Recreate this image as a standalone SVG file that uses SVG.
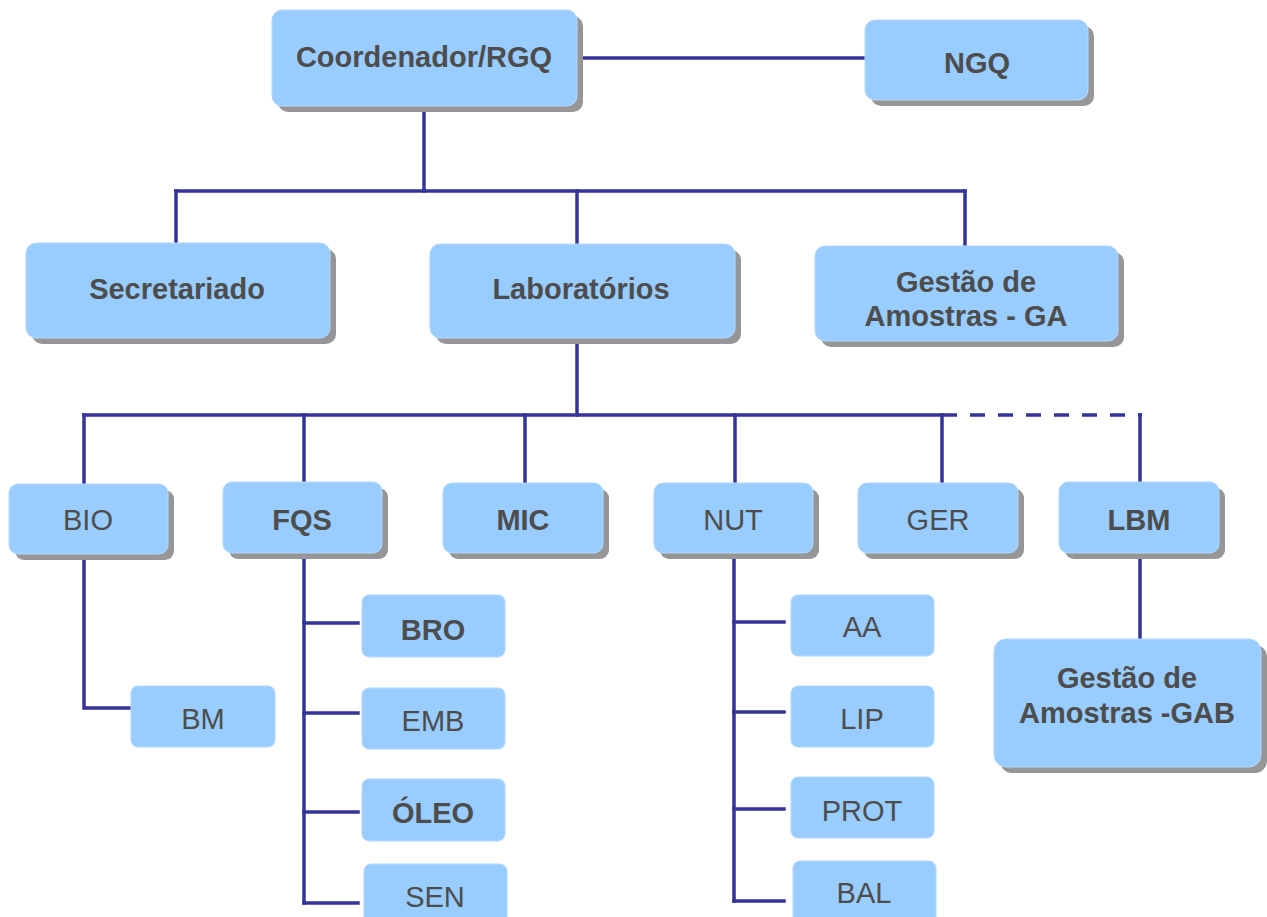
<svg xmlns="http://www.w3.org/2000/svg" width="1267" height="917" viewBox="0 0 1267 917">
<style>
.box{fill:#99ccff;stroke:#b3d9ff;stroke-width:1}
.sh{fill:#969696}
.t{font-family:"Liberation Sans",Arial,sans-serif;font-size:29px;fill:#4d4d4d;text-anchor:middle}
.b{font-weight:bold}
.ln{stroke:#333399;stroke-width:3.5;fill:none;stroke-linecap:square}
.dash{stroke:#333399;stroke-width:3.5;fill:none;stroke-dasharray:15 13}
</style>
<rect width="1267" height="917" fill="#ffffff"/>
<g id="connectors">
<line class="ln" x1="583" y1="58" x2="865" y2="58"/>
<line class="ln" x1="424" y1="112" x2="424" y2="191"/>
<line class="ln" x1="176" y1="191" x2="965" y2="191"/>
<line class="ln" x1="176" y1="191" x2="176" y2="242"/>
<line class="ln" x1="577" y1="191" x2="577" y2="244"/>
<line class="ln" x1="965" y1="191" x2="965" y2="245"/>
<line class="ln" x1="577" y1="344" x2="577" y2="415"/>
<line class="ln" x1="84" y1="415" x2="942" y2="415"/>
<line class="dash" x1="942" y1="415" x2="1142" y2="415"/>
<line class="ln" x1="84" y1="415" x2="84" y2="484"/>
<line class="ln" x1="304" y1="415" x2="304" y2="482"/>
<line class="ln" x1="525" y1="415" x2="525" y2="483"/>
<line class="ln" x1="735" y1="415" x2="735" y2="483"/>
<line class="ln" x1="942" y1="415" x2="942" y2="483"/>
<line class="ln" x1="1140" y1="415" x2="1140" y2="482"/>
<polyline class="ln" points="84,560 84,708 130,708"/>
<line class="ln" x1="304" y1="559" x2="304" y2="903"/>
<line class="ln" x1="304" y1="623" x2="358" y2="623"/>
<line class="ln" x1="304" y1="713" x2="358" y2="713"/>
<line class="ln" x1="304" y1="812" x2="358" y2="812"/>
<line class="ln" x1="304" y1="903" x2="358" y2="903"/>
<line class="ln" x1="734" y1="559" x2="734" y2="901"/>
<line class="ln" x1="734" y1="622" x2="784" y2="622"/>
<line class="ln" x1="734" y1="712" x2="784" y2="712"/>
<line class="ln" x1="734" y1="809" x2="784" y2="809"/>
<line class="ln" x1="734" y1="901" x2="784" y2="901"/>
<line class="ln" x1="1140" y1="559" x2="1140" y2="639"/>
</g>
<g id="coord">
<rect class="sh" x="278" y="16" width="305" height="96" rx="10"/>
<rect class="box" x="272" y="10" width="305" height="96" rx="10"/>
<text class="t b" x="424" y="67">Coordenador/RGQ</text>
</g>
<g id="ngq">
<rect class="sh" x="871" y="26" width="223" height="80" rx="10"/>
<rect class="box" x="865" y="20" width="223" height="80" rx="10"/>
<text class="t b" x="977" y="73">NGQ</text>
</g>
<g id="secretariado">
<rect class="sh" x="32" y="249" width="304" height="95" rx="10"/>
<rect class="box" x="26" y="243" width="304" height="95" rx="10"/>
<text class="t b" x="177" y="299">Secretariado</text>
</g>
<g id="laboratorios">
<rect class="sh" x="436" y="250" width="305" height="94" rx="10"/>
<rect class="box" x="430" y="244" width="305" height="94" rx="10"/>
<text class="t b" x="581" y="299">Laboratórios</text>
</g>
<g id="ga">
<rect class="sh" x="821" y="252" width="303" height="95" rx="10"/>
<rect class="box" x="815" y="246" width="303" height="95" rx="10"/>
<text class="t b" x="966" y="292">Gestão de</text>
<text class="t b" x="966" y="326">Amostras - GA</text>
</g>
<g id="bio">
<rect class="sh" x="15" y="490" width="159" height="70" rx="9"/>
<rect class="box" x="9" y="484" width="159" height="70" rx="9"/>
<text class="t" x="88" y="530">BIO</text>
</g>
<g id="fqs">
<rect class="sh" x="229" y="488" width="159" height="71" rx="9"/>
<rect class="box" x="223" y="482" width="159" height="71" rx="9"/>
<text class="t b" x="302" y="530">FQS</text>
</g>
<g id="mic">
<rect class="sh" x="449" y="489" width="160" height="70" rx="9"/>
<rect class="box" x="443" y="483" width="160" height="70" rx="9"/>
<text class="t b" x="523" y="530">MIC</text>
</g>
<g id="nut">
<rect class="sh" x="660" y="489" width="159" height="70" rx="9"/>
<rect class="box" x="654" y="483" width="159" height="70" rx="9"/>
<text class="t" x="733" y="530">NUT</text>
</g>
<g id="ger">
<rect class="sh" x="864" y="489" width="160" height="70" rx="9"/>
<rect class="box" x="858" y="483" width="160" height="70" rx="9"/>
<text class="t" x="938" y="530">GER</text>
</g>
<g id="lbm">
<rect class="sh" x="1065" y="488" width="160" height="71" rx="9"/>
<rect class="box" x="1059" y="482" width="160" height="71" rx="9"/>
<text class="t b" x="1139" y="530">LBM</text>
</g>
<g id="bm">
<rect class="box" x="131" y="686" width="144" height="61" rx="7"/>
<text class="t" x="203" y="729">BM</text>
</g>
<g id="bro">
<rect class="box" x="362" y="595" width="143" height="62" rx="7"/>
<text class="t b" x="433" y="640">BRO</text>
</g>
<g id="emb">
<rect class="box" x="362" y="688" width="143" height="61" rx="7"/>
<text class="t" x="433" y="731">EMB</text>
</g>
<g id="oleo">
<rect class="box" x="362" y="779" width="143" height="62" rx="7"/>
<text class="t b" x="433" y="823">ÓLEO</text>
</g>
<g id="sen">
<rect class="box" x="364" y="864" width="143" height="70" rx="7"/>
<text class="t" x="435" y="907">SEN</text>
</g>
<g id="aa">
<rect class="box" x="791" y="595" width="143" height="61" rx="7"/>
<text class="t" x="862" y="637">AA</text>
</g>
<g id="lip">
<rect class="box" x="791" y="686" width="143" height="61" rx="7"/>
<text class="t" x="862" y="729">LIP</text>
</g>
<g id="prot">
<rect class="box" x="791" y="777" width="143" height="61" rx="7"/>
<text class="t" x="862" y="821">PROT</text>
</g>
<g id="bal">
<rect class="box" x="793" y="861" width="143" height="70" rx="7"/>
<text class="t" x="864" y="903">BAL</text>
</g>
<g id="gab">
<rect class="sh" x="1000" y="645" width="267" height="128" rx="12"/>
<rect class="box" x="994" y="639" width="267" height="128" rx="12"/>
<text class="t b" x="1127" y="688">Gestão de</text>
<text class="t b" x="1127" y="723">Amostras -GAB</text>
</g>
</svg>
